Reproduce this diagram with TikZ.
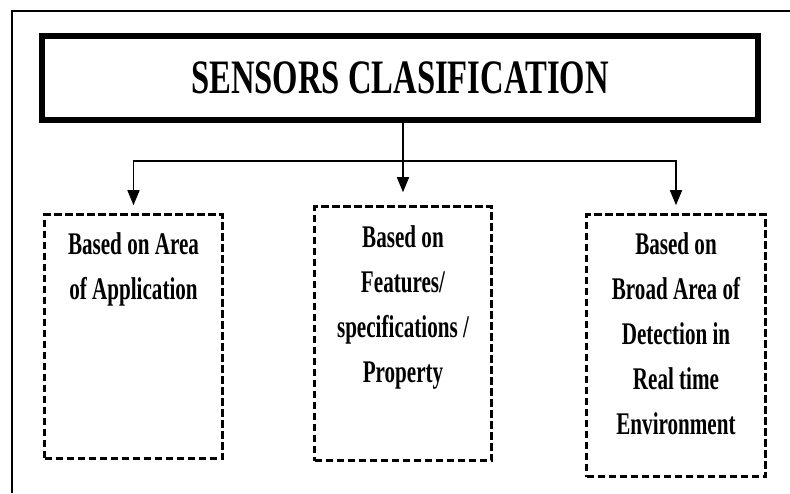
\documentclass[tikz,border=0pt]{standalone}
\usepackage{fontspec}
\setmainfont{Liberation Serif}
\newfontface\headfont[FakeStretch=0.68]{Liberation Serif Bold}
\newfontface\catfont[FakeStretch=0.67]{Liberation Serif Bold}
\usetikzlibrary{arrows.meta,positioning,calc}

\begin{document}
\begin{tikzpicture}[x=1pt,y=-1pt,
    headbox/.style={draw, line width=6pt, minimum width=716pt, minimum height=84pt,
      inner sep=0pt, font=\headfont\fontsize{48}{56}\selectfont},
    catbox/.style={draw, line width=2.6pt, dash pattern=on 7.5pt off 3.5pt, inner sep=0pt},
    cattext/.style={anchor=north, align=center, inner sep=0pt,
      font=\catfont\fontsize{31.5}{45}\selectfont},
    link/.style={line width=1.6pt, -{Triangle[width=12pt,length=15pt]}}
  ]
        \useasboundingbox (0,0) rectangle (790,493);
        % frame (cut at right and bottom)
        \draw[line width=1.4pt] (12,493) -- (12,11) -- (790,11);
        \node[headbox] (title) at (400,78) {SENSORS CLASIFICATION};
        \node[catbox, minimum width=178pt, minimum height=244pt] (app) at (133.5,336.5) {};
        \node[catbox, minimum width=177pt, minimum height=254pt] (feat) at (403,333.5) {};
        \node[catbox, minimum width=179pt, minimum height=262pt] (det) at (676,345.5) {};
        \node[cattext] (apptext) at ([yshift=-19.5pt]app.north) {Based on Area\\of Application};
        \node[cattext] (feattext) at ([yshift=-20.5pt]feat.north) {Based on\\Features/\\specifications /\\Property};
        \node[cattext] (dettext) at ([yshift=-19.5pt]det.north) {Based on\\Broad Area of\\Detection in\\Real time\\Environment};
        \coordinate (top) at (title.south -| feat.north);
        \coordinate (hub) at ($(top)+(0,38)$);
        \draw[link, shorten >=13pt] (top) -- (feat.north);
        \draw[link, shorten >=8pt] (hub) -| (app.north);
        \draw[link, shorten >=8pt] (hub) -| (det.north);
\end{tikzpicture}
\end{document}
